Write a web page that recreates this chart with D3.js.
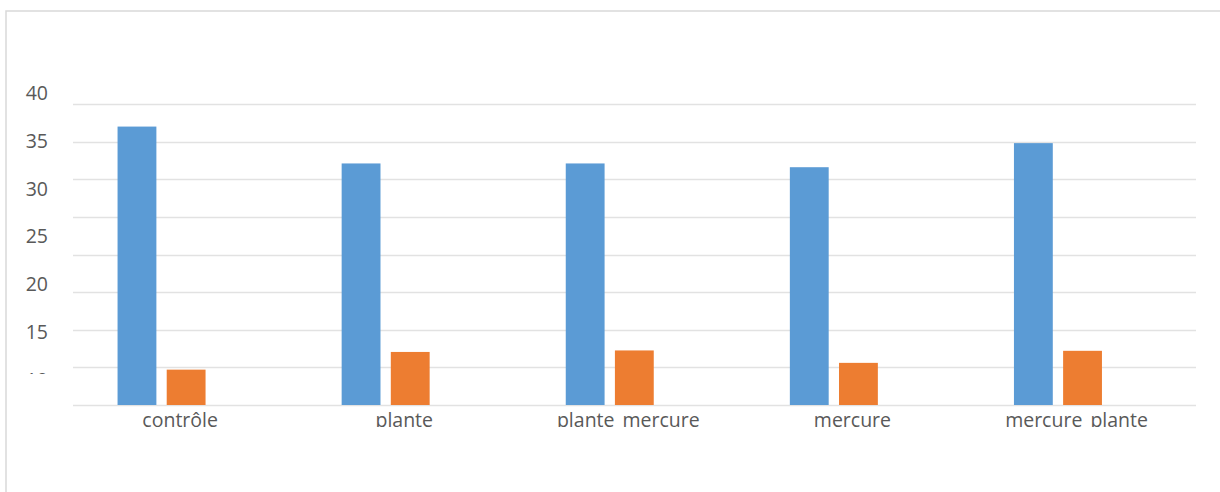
<!DOCTYPE html>
<html><head><meta charset="utf-8">
<script src="https://cdn.jsdelivr.net/npm/d3@7"></script>
<style>
html,body{margin:0;padding:0;background:#fff;}
svg{display:block;}
text{font-family:"Open Sans","Liberation Sans",sans-serif;fill:#595959;}
</style></head>
<body>
<svg id="c" width="1220" height="492"></svg>
<script>
const categories = ["contrôle", "plante", "plante mercure", "mercure", "mercure plante"];
const series = ["s1", "s2"];
const seriesA = [37.0, 32.1, 32.1, 31.6, 34.8];
const seriesB = [4.7, 7.05, 7.25, 5.6, 7.2];
const gridValues = [0, 5, 10, 15, 20, 25, 30, 35, 40];
const yTickLabels = [40, 35, 30, 25, 20, 15, 10];
const colors = ["#5b9bd5", "#ed7d31"];

const svg = d3.select("#c");

// outer frame
svg.append("path").attr("d", "M6,492V11H1220")
  .attr("fill", "none").attr("stroke", "#d9d9d9").attr("stroke-width", 1.5);

const y = d3.scaleLinear().domain([0, 40]).range([405, 104]);
const gridX0 = 73, gridX1 = 1196;

svg.append("g").selectAll("line").data(gridValues).join("line")
  .attr("x1", gridX0).attr("x2", gridX1)
  .attr("y1", d => Math.round(y(d)) + 0.5).attr("y2", d => Math.round(y(d)) + 0.5)
  .attr("stroke", "#e2e2e2").attr("stroke-width", 1.5);

const x0 = d3.scaleBand().domain(categories).range([49.5, 1170]).padding(0);
const x1 = d3.scaleBand().domain(series).range([0, 88]).paddingInner(0.21);
const off = (x0.bandwidth() - 88) / 2;

const rows = categories.map((c, i) => ({c, vals: [seriesA[i], seriesB[i]]}));
const g = svg.append("g");
g.selectAll("g").data(rows).join("g")
  .attr("transform", d => `translate(${x0(d.c) + off},0)`)
  .selectAll("rect").data(d => d.vals.map((v, k) => ({k, v})))
  .join("rect")
  .attr("x", d => x1(series[d.k]))
  .attr("width", x1.bandwidth())
  .attr("y", d => y(d.v))
  .attr("height", d => y(0) - y(d.v))
  .attr("fill", d => colors[d.k]);

// y tick labels (as drawn in the reference, on their own spacing)
const defs = svg.append("defs");
defs.append("clipPath").attr("id", "ylab").append("rect")
  .attr("x", 0).attr("y", 0).attr("width", 70).attr("height", 374);
defs.append("clipPath").attr("id", "xlab").append("rect")
  .attr("x", 0).attr("y", 0).attr("width", 1220).attr("height", 427);

const yl = d3.scaleLinear().domain([10, 40]).range([386.8, 100]);
svg.append("g").attr("clip-path", "url(#ylab)")
  .selectAll("text").data(yTickLabels).join("text")
  .attr("x", 48).attr("y", d => yl(d))
  .attr("text-anchor", "end").attr("font-size", 19.5)
  .text(d => d);

// category labels
const xl = d3.scaleBand().domain(categories).range([49.5 + 18.6, 1170 + 18.6]);
svg.append("g").attr("clip-path", "url(#xlab)")
  .selectAll("text").data(categories).join("text")
  .attr("x", d => xl(d) + xl.bandwidth() / 2).attr("y", 426.7)
  .attr("text-anchor", "middle").attr("font-size", 19.5)
  .style("word-spacing", "3px")
  .text(d => d);
</script>
</body></html>
